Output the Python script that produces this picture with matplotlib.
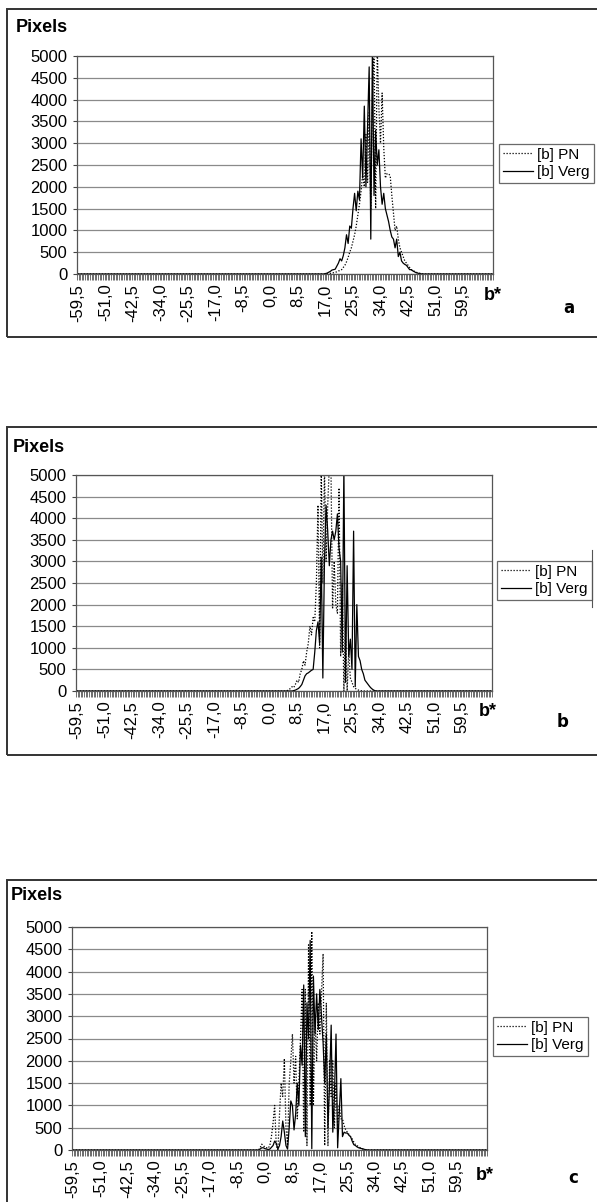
import matplotlib
matplotlib.use("Agg")
import matplotlib.pyplot as plt
import numpy as np
from matplotlib.patches import Rectangle
from matplotlib.lines import Line2D

plt.rcParams['font.family'] = ['Liberation Sans', 'DejaVu Sans']

# b* categories of the histogram (step 0.5)
categories = np.arange(-59.5, 68.5 + 0.25, 0.5)
tick_values = np.arange(-59.5, 59.5 + 0.1, 8.5)
tick_labels = [('%.1f' % v).replace('.', ',') for v in tick_values]
y_ticks = list(range(0, 5001, 500))

# panel a - non-zero part of each series, starting at b* = 17.0
start_a = 17.0
verg_a = [10, 20, 40, 60, 90, 100, 110, 180, 250, 350, 300, 420, 600, 900, 700,
          1100, 1050, 1500, 1850, 1450, 1900, 1700, 3100, 2200, 3850, 2000, 3400,
          4750, 800, 5200, 1800, 3300, 2500, 2850, 2000, 1600, 1850, 1500, 1350,
          1200, 1000, 850, 800, 600, 800, 400, 500, 300, 250, 220, 200, 150, 100,
          100, 70, 50, 30, 20, 10, 5, 0]
pn_a = [0, 5, 10, 15, 20, 30, 40, 50, 70, 80, 100, 150, 200, 280, 380, 500, 600,
        750, 900, 1100, 1350, 1600, 1900, 2300, 2000, 3200, 2100, 3700, 1500, 4000,
        5200, 1500, 5200, 3800, 3000, 4150, 2900, 2200, 2300, 2300, 2250, 1800,
        1400, 1000, 1100, 800, 600, 500, 400, 300, 250, 200, 150, 100, 80, 60, 40,
        30, 20, 10, 5]

# panel b - starting at b* = 5.0
start_b = 5.0
pn_b = [0, 10, 30, 60, 100, 80, 150, 250, 200, 400, 500, 700, 600, 900, 1100,
        1500, 1300, 1700, 1600, 2500, 4300, 1000, 5200, 2500, 5200, 3000, 4300,
        5200, 5200, 1900, 3000, 2000, 1800, 4700, 800, 2500, 0, 1600, 0, 900, 300,
        200, 100, 60, 40, 20, 10, 5, 0]
verg_b = [0, 0, 0, 0, 0, 10, 20, 40, 60, 100, 150, 250, 350, 400, 420, 450, 480,
          500, 900, 1400, 1600, 1100, 3100, 300, 3000, 4300, 3700, 2900, 3500,
          3700, 3500, 3700, 4100, 3300, 3000, 900, 5200, 200, 2900, 800, 1200, 500,
          3700, 100, 2000, 800, 700, 500, 400, 250, 200, 150, 100, 60, 30, 10, 0]

# panel c - starting at b* = -2.0
start_c = -2.0
verg_c = [0, 20, 50, 50, 30, 20, 10, 20, 60, 100, 200, 150, 20, 100, 300, 650,
          400, 100, 20, 500, 1100, 1000, 450, 800, 1500, 1000, 2350, 1900, 3700,
          300, 3300, 2500, 4700, 30, 3900, 2600, 3500, 2700, 3600, 3000, 2400,
          1500, 2600, 500, 1500, 2800, 400, 1200, 2600, 50, 800, 1600, 300, 400,
          380, 380, 330, 300, 200, 120, 100, 70, 50, 40, 30, 20, 10, 5, 0]
pn_c = [0, 50, 130, 100, 60, 50, 40, 100, 300, 600, 1000, 100, 0, 800, 1500,
        1200, 2050, 500, 100, 1500, 2000, 2600, 1500, 2100, 700, 1500, 2500, 3600,
        400, 3600, 100, 4600, 1000, 4900, 1000, 3000, 2000, 3300, 2600, 3500, 4400,
        100, 3300, 100, 2000, 1200, 2000, 500, 1500, 500, 1000, 700, 700, 550, 450,
        400, 350, 300, 250, 180, 120, 100, 70, 50, 30, 20, 10, 0]


def full_series(start, values):
    out = np.zeros(len(categories))
    i0 = int(round((start - categories[0]) / 0.5))
    out[i0:i0 + len(values)] = values
    return out


W, H = 597, 1202
fig = plt.figure(figsize=(W / 100, H / 100), dpi=100)


def fx(px):
    return px / W


def fy(py):
    return 1 - py / H


panels = [
    # frame left/top/bottom, axes box (l, t, r, b), legend corner, text spots
    dict(letter='a', start=start_a, pn=pn_a, verg=verg_a, frame=(7, 9, 337),
         box=(77, 56, 493, 274), leg=(499, 144), pix=(16, 27), bstar=(484, 296),
         let=(569, 308)),
    dict(letter='b', start=start_b, pn=pn_b, verg=verg_b, frame=(7, 427, 755),
         box=(76, 475, 492, 691), leg=(497, 561), pix=(13, 448), bstar=(479, 712),
         let=(563, 722)),
    dict(letter='c', start=start_c, pn=pn_c, verg=verg_c, frame=(7, 880, 1230),
         box=(72, 927, 487, 1150), leg=(493, 1017), pix=(11, 896), bstar=(476, 1176),
         let=(573, 1178)),
]

for p in panels:
    x0, t, b = p['frame']
    fig.patches.append(Rectangle((fx(x0), fy(b)), fx(640 - x0), (b - t) / H,
                                 transform=fig.transFigure, fill=False,
                                 edgecolor='#333333', linewidth=1.4))
    l, tp, r, bt = p['box']
    ax = fig.add_axes([fx(l), fy(bt), (r - l) / W, (bt - tp) / H])

    ax.plot(categories, full_series(p['start'], p['pn']), color='black',
            linestyle=(0, (1, 1.4)), linewidth=0.9, label='[b] PN')
    ax.plot(categories, full_series(p['start'], p['verg']), color='black',
            linestyle='solid', linewidth=0.9, label='[b] Verg')

    ax.set_xlim(-59.75, 68.75)
    ax.set_ylim(0, 5000)
    ax.set_yticks(y_ticks)
    ax.set_yticklabels([str(v) for v in y_ticks], fontsize=12)
    ax.set_xticks(tick_values)
    ax.set_xticklabels(tick_labels, rotation=90, fontsize=12)
    ax.set_xticks(np.arange(-59.75, 68.76, 0.5), minor=True)
    ax.tick_params(axis='x', which='major', length=0, pad=7)
    ax.tick_params(axis='x', which='minor', length=4, width=0.6,
                   color='#555555', direction='out')
    ax.tick_params(axis='y', length=3, width=0.8, pad=4, color='#444444')
    ax.grid(axis='y', color='#8a8a8a', linewidth=0.9)
    ax.set_axisbelow(True)
    for s in ax.spines.values():
        s.set_color('#555555')
        s.set_linewidth(0.9)

    lx, ly = p['leg']
    leg = ax.legend(loc='upper left', bbox_to_anchor=(fx(lx), fy(ly)),
                    bbox_transform=fig.transFigure, borderaxespad=0,
                    fontsize=11, frameon=True, fancybox=False, handlelength=2.0,
                    handletextpad=0.25, borderpad=0.25, labelspacing=0.2)
    leg.get_frame().set_edgecolor('#444444')
    leg.get_frame().set_linewidth(0.9)

    px_, py_ = p['pix']
    fig.text(fx(px_), fy(py_), 'Pixels', fontsize=13, fontweight='bold',
             ha='left', va='center')
    bx, by = p['bstar']
    fig.text(fx(bx), fy(by), 'b*', fontsize=13, fontweight='bold',
             ha='left', va='center')
    tx, ty = p['let']
    fig.text(fx(tx), fy(ty), p['letter'], fontsize=12, fontweight='bold',
             ha='center', va='center', family='DejaVu Sans')

# small stray line right of legend b
fig.add_artist(Line2D([fx(592), fx(592)], [fy(550), fy(607)],
                      transform=fig.transFigure, color='#555555', linewidth=0.8))

fig.savefig('out.png', dpi=100)
